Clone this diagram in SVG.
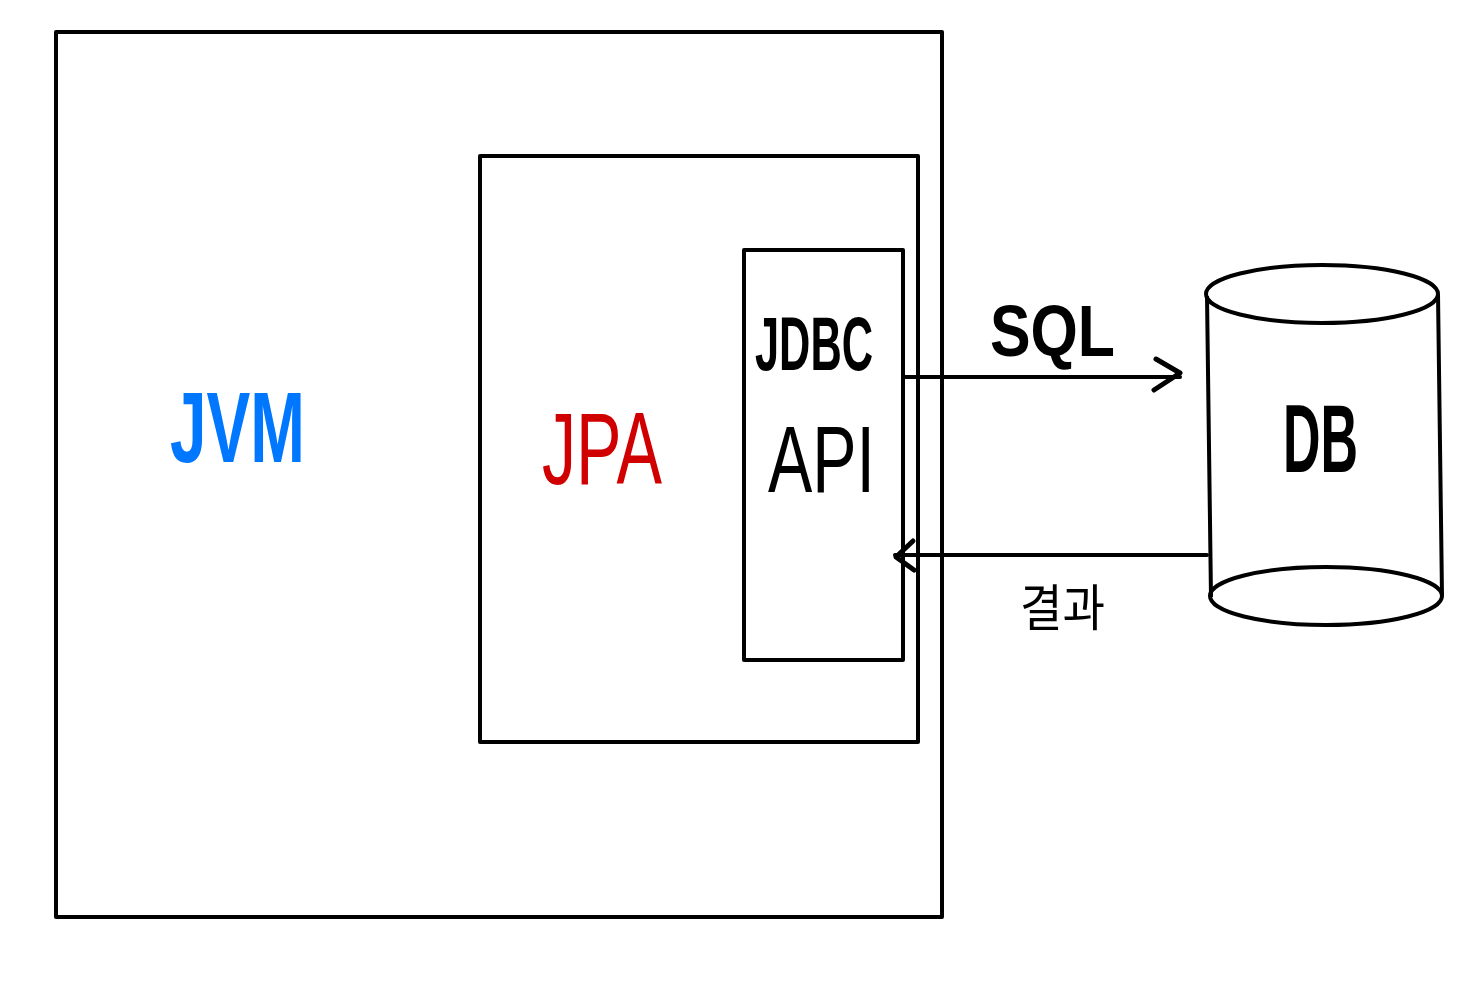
<svg xmlns="http://www.w3.org/2000/svg" width="1470" height="1000" viewBox="0 0 1470 1000">
<style>
.box{fill:none;stroke:#000;stroke-width:4;stroke-linejoin:round}
.line{fill:none;stroke:#000;stroke-width:4;stroke-linecap:round;stroke-linejoin:round}
.head{fill:none;stroke:#000;stroke-width:5;stroke-linecap:round;stroke-linejoin:round}
.t{font-family:"Liberation Sans","Noto Sans CJK KR",sans-serif;fill:#000}
</style>
<rect width="1470" height="1000" fill="#fff"/>
<g id="jvm">
<rect class="box" x="56" y="32" width="886" height="885"/>
<text class="t" x="170" y="462" font-size="100" font-weight="bold" style="fill:#0077FF" textLength="135" lengthAdjust="spacingAndGlyphs">JVM</text>
</g>
<g id="jpa">
<rect class="box" x="480" y="156" width="438" height="586"/>
<text class="t" x="542" y="484" font-size="102" style="fill:#D00000" textLength="120" lengthAdjust="spacingAndGlyphs">JPA</text>
</g>
<g id="jdbc">
<rect class="box" x="744" y="250" width="159" height="410"/>
<text class="t" x="755" y="370" font-size="76" font-weight="bold" textLength="118" lengthAdjust="spacingAndGlyphs">JDBC</text>
<text class="t" x="768" y="492" font-size="94" textLength="107" lengthAdjust="spacingAndGlyphs">API</text>
</g>
<g id="db">
<path class="box" d="M1207,296 L1211,597 M1438,294 L1442,595"/>
<ellipse class="box" cx="1322" cy="294" rx="116" ry="29"/>
<ellipse class="box" cx="1326" cy="596" rx="116" ry="29"/>
<text class="t" x="1283" y="472" font-size="96" font-weight="bold" textLength="75" lengthAdjust="spacingAndGlyphs">DB</text>
</g>
<g id="connectors">
<path class="line" d="M903,377 L1180,377"/>
<path class="head" d="M1156,359 L1180,373 L1154,390"/>
<path class="line" d="M1207,555 L895,555"/>
<path class="head" d="M913,541 L896,557 L914,570"/>
<text class="t" x="990" y="356" font-size="72" font-weight="bold" textLength="125" lengthAdjust="spacingAndGlyphs">SQL</text>
<text class="t" x="1020" y="626" font-size="50" textLength="85" lengthAdjust="spacingAndGlyphs">결과</text>
</g>
</svg>
